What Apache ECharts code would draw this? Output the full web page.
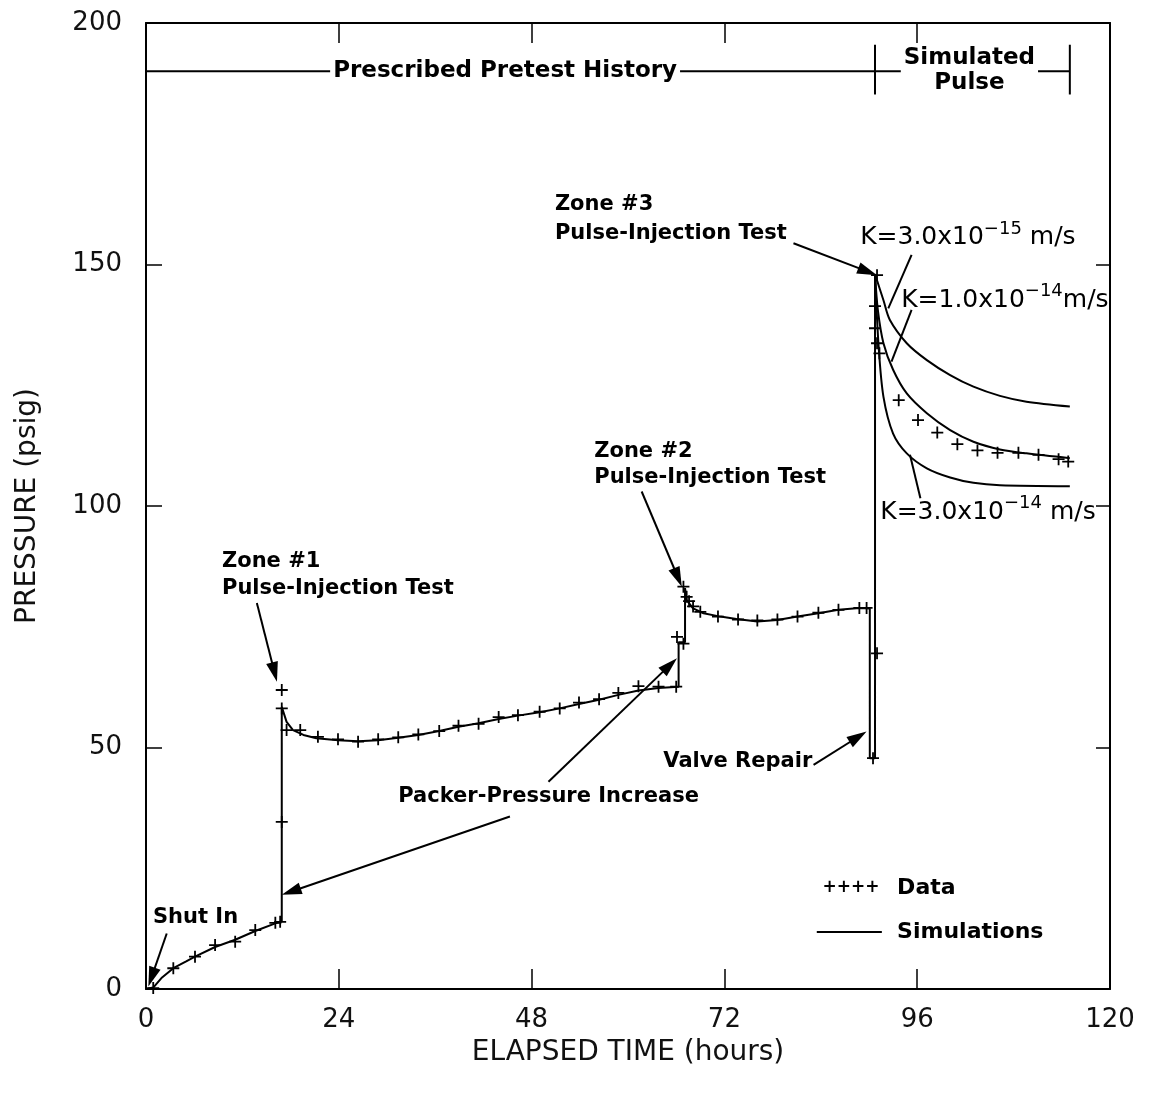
<!DOCTYPE html>
<html>
<head>
<meta charset="utf-8">
<script src="https://cdn.jsdelivr.net/npm/echarts@6/dist/echarts.min.js"></script>
<style>
html,body{margin:0;padding:0;background:#fff;}
#chart{width:1151px;height:1099px;}
</style>
</head>
<body>
<div id="chart"></div>
<script>
// ---------------- DATA ----------------
const xTicks = [0, 24, 48, 72, 96, 120];
const yTicks = [0, 50, 100, 150, 200];

// Measured data (hours, psig)
const dataTime = [0.9,3.4,6.1,8.6,11.1,13.6,16.1,16.7,16.9,16.9,16.9,17.5,19.2,21.4,23.9,26.4,28.9,31.4,33.9,36.5,38.9,41.4,43.9,46.3,49.0,51.5,53.9,56.4,58.8,61.3,63.8,66.0,66.1,66.9,66.9,67.3,67.6,68.1,69.0,71.2,73.7,76.1,78.6,81.1,83.7,86.2,88.8,89.7,90.5,91.0,91.0,90.75,90.75,91.0,91.3,93.7,96.1,98.5,101.0,103.5,106.0,108.6,111.1,113.6,114.8];
const dataPressure = [0.2,4.3,6.7,9.1,9.8,12.2,13.7,13.9,34.6,58.1,61.9,53.6,53.6,52.2,51.7,51.2,51.7,52.1,52.7,53.4,54.5,54.9,56.3,56.7,57.4,58.1,59.3,60.0,61.3,62.7,62.6,62.6,72.9,71.5,83.3,81.2,80.3,79.2,78.1,77.1,76.5,76.3,76.5,77.1,77.9,78.5,78.9,78.9,47.8,69.5,147.8,141.4,136.8,133.7,131.6,121.9,117.8,115.2,112.8,111.5,111.0,111.0,110.6,109.7,109.2];

// Simulated pretest history
const histTime = [0,0.9,2,3.4,5,6.1,8.6,11.1,13.6,16.1,16.9,16.9,17.5,18.3,19.6,21.2,23.9,26.4,28.9,31.4,33.9,36.5,38.9,41.4,43.9,46.3,49.0,51.5,53.9,56.4,58.8,61.3,63.8,66.3,66.3,67.1,67.1,67.3,68.1,69.4,71.5,73.5,76.1,78.6,81.1,83.7,86.2,88.8,90.1,90.1,90.75,90.75];
const histPressure = [0,0.3,2.4,4.3,5.7,6.7,8.7,10.2,12.0,13.6,14.0,58.4,55.3,53.6,52.6,51.9,51.5,51.3,51.5,52.0,52.6,53.4,54.3,55.0,55.9,56.6,57.3,58.1,59.0,59.9,60.9,61.8,62.3,62.6,71.8,71.8,83.0,80.5,78.8,77.8,77.1,76.6,76.1,76.4,77.1,77.8,78.5,78.9,78.8,47.8,47.8,148];

// Simulated pulse, K = 3.0e-15 m/s
const k15Time = [90.75,91.8,92.6,94.7,97.2,100.1,103.0,106.3,109.6,115.0];
const k15Pressure = [148,142.6,138.5,133.7,130.2,127.1,124.7,122.8,121.6,120.6];
// K = 1.0e-14 m/s
const k14aTime = [90.75,91.1,91.8,93.0,94.7,97.2,100.1,103.0,106.3,109.6,115.0];
const k14aPressure = [148,140.6,133.7,128.2,123.3,119.2,115.7,113.3,111.7,110.9,109.9];
// K = 3.0e-14 m/s
const k14bTime = [90.75,91.2,91.8,93.0,94.7,97.2,100.1,103.0,106.3,115.0];
const k14bPressure = [148,133.0,122.6,115.0,110.9,107.8,105.9,104.8,104.3,104.1];

// Annotation arrows / leader lines: [x1, y1, x2, y2, arrowHead]
const arrows = [
  [2.58, 11.5, 0.29, 0.5, 1],      // Shut In
  [13.8, 79.9, 16.3, 63.6, 1],     // Zone #1
  [45.3, 35.7, 16.9, 19.5, 1],     // Packer 1
  [50.1, 42.9, 66.1, 68.5, 1],     // Packer 2
  [61.7, 103.0, 66.7, 83.3, 1],    // Zone #2
  [80.6, 154.4, 91.0, 147.8, 1],   // Zone #3
  [83.1, 46.4, 89.7, 53.3, 1],     // Valve Repair
  [95.3, 152.0, 92.4, 140.9, 0],   // K=3.0e-15 leader
  [95.3, 140.6, 92.8, 129.9, 0],   // K=1.0e-14 leader
  [96.4, 101.6, 95.1, 110.6, 0],   // K=3.0e-14 leader
  [0, 190, 90.75, 190, 0],         // bracket history
  [90.75, 185.2, 90.75, 195.5, 0],
  [90.75, 190, 115.0, 190, 0],     // bracket pulse
  [115.0, 185.2, 115.0, 195.5, 0],
  [83.5, 11.8, 91.6, 11.8, 0]      // legend line sample
];

// Text annotations: [x, y, text, style]
const notes = [
  [9.46, 88.4, 'Zone #1', 'note'],
  [9.46, 83.0, 'Pulse-Injection Test', 'note'],
  [55.8, 111.2, 'Zone #2', 'note'],
  [55.8, 105.8, 'Pulse-Injection Test', 'note'],
  [50.9, 162.5, 'Zone #3', 'note'],
  [50.9, 156.5, 'Pulse-Injection Test', 'note'],
  [0.87, 14.7, 'Shut In', 'note'],
  [31.4, 39.75, 'Packer-Pressure Increase', 'note'],
  [64.4, 47.0, 'Valve Repair', 'note'],
  [88.9, 155.5, '{m|K=3.0x10}{s|−15}{m| m/s}', 'k'],
  [94.0, 142.6, '{m|K=1.0x10}{s|−14}{m|m/s}', 'k'],
  [91.4, 98.6, '{m|K=3.0x10}{s|−14}{m| m/s}', 'k'],
  [84.2, 20.9, '++++', 'plus'],
  [93.5, 20.9, 'Data', 'legend'],
  [93.5, 11.8, 'Simulations', 'legend'],
  [44.7, 190.1, 'Prescribed Pretest History', 'bracket'],
  [102.5, 190.2, 'Simulated\nPulse', 'bracket']
];

// ---------------- HELPERS ----------------
const zip = (a, b) => a.map((v, i) => [v, b[i]]);
const FONT = 'DejaVu Sans';
const base = {show: true, opacity: 1, textBorderWidth: 0, color: '#000'};
const labelStyles = {
  note: Object.assign({position: 'right', distance: 0, fontFamily: FONT, fontWeight: 700, fontSize: 21}, base),
  legend: Object.assign({position: 'right', distance: 0, fontFamily: FONT, fontWeight: 700, fontSize: 22}, base),
  plus: Object.assign({position: 'right', distance: 0, fontFamily: FONT, fontWeight: 700, fontSize: 17}, base),
  k: Object.assign({position: 'right', distance: 0,
      rich: {
        m: {fontFamily: FONT, fontSize: 25, color: '#000'},
        s: {fontFamily: FONT, fontSize: 18, color: '#000', padding: [0, 0, 18, 0]}
      }}, base),
  bracket: Object.assign({position: 'inside', fontFamily: FONT, fontWeight: 700, fontSize: 23,
      lineHeight: 25, backgroundColor: '#fff', padding: [0, 3, 0, 3], align: 'center'}, base)
};

function renderArrow(params, api) {
  const p1 = api.coord([api.value(0), api.value(1)]);
  const p2 = api.coord([api.value(2), api.value(3)]);
  const head = api.value(4);
  const dx = p2[0] - p1[0], dy = p2[1] - p1[1];
  const len = Math.hypot(dx, dy) || 1;
  const ux = dx / len, uy = dy / len;
  const L = 20, W = 6;
  const children = [];
  const end = head ? [p2[0] - ux * L * 0.7, p2[1] - uy * L * 0.7] : p2;
  children.push({type: 'line', shape: {x1: p1[0], y1: p1[1], x2: end[0], y2: end[1]},
    style: {stroke: '#000', lineWidth: 2}});
  if (head) {
    const b = [p2[0] - ux * L, p2[1] - uy * L];
    children.push({type: 'polygon', shape: {points: [p2, [b[0] - uy * W, b[1] + ux * W], [b[0] + uy * W, b[1] - ux * W]]},
      style: {fill: '#000'}});
  }
  return {type: 'group', children};
}

const PLUS = 'path://M5.1,0H6.9V5.1H12V6.9H6.9V12H5.1V6.9H0V5.1H5.1Z';
const tickFont = {fontFamily: FONT, fontSize: 26, color: '#111'};

const chart = echarts.init(document.getElementById('chart'), null, {renderer: 'canvas'});
const simLine = {type: 'line', showSymbol: false, symbol: 'none', silent: true,
  lineStyle: {color: '#000', width: 2}, z: 3, animation: false};

chart.setOption({
  animation: false,
  backgroundColor: '#fff',
  textStyle: {color: '#000'},
  grid: {left: 146, right: 41, top: 23, bottom: 110, show: false},
  xAxis: [
    {type: 'value', min: 0, max: 120, interval: 24, position: 'bottom',
     axisLine: {show: true, onZero: false, lineStyle: {color: '#000', width: 2}},
     axisTick: {show: true, inside: true, length: 20, lineStyle: {color: '#000', width: 1.5}},
     axisLabel: Object.assign({margin: 18}, tickFont),
     splitLine: {show: false},
     name: 'ELAPSED TIME (hours)', nameLocation: 'middle', nameGap: 50,
     nameTextStyle: {fontFamily: FONT, fontSize: 28, color: '#111'}},
    {type: 'value', min: 0, max: 120, interval: 24, position: 'top',
     axisLine: {show: true, onZero: false, lineStyle: {color: '#000', width: 2}},
     axisTick: {show: true, inside: true, length: 20, lineStyle: {color: '#000', width: 1.5}},
     axisLabel: {show: false}, splitLine: {show: false}}
  ],
  yAxis: [
    {type: 'value', min: 0, max: 200, interval: 50, position: 'left',
     axisLine: {show: true, onZero: false, lineStyle: {color: '#000', width: 2}},
     axisTick: {show: true, inside: true, length: 16, lineStyle: {color: '#000', width: 1.5}},
     axisLabel: Object.assign({margin: 24}, tickFont),
     splitLine: {show: false},
     name: 'PRESSURE (psig)', nameLocation: 'middle', nameGap: 104,
     nameTextStyle: {fontFamily: FONT, fontSize: 28, color: '#111'}},
    {type: 'value', min: 0, max: 200, interval: 50, position: 'right',
     axisLine: {show: true, onZero: false, lineStyle: {color: '#000', width: 2}},
     axisTick: {show: true, inside: true, length: 14, lineStyle: {color: '#000', width: 1.5}},
     axisLabel: {show: false}, splitLine: {show: false}}
  ],
  series: [
    Object.assign({name: 'Simulated history', data: zip(histTime, histPressure)}, simLine),
    Object.assign({name: 'K=3.0x10^-15 m/s', data: zip(k15Time, k15Pressure), smooth: 0.3}, simLine),
    Object.assign({name: 'K=1.0x10^-14 m/s', data: zip(k14aTime, k14aPressure), smooth: 0.3}, simLine),
    Object.assign({name: 'K=3.0x10^-14 m/s', data: zip(k14bTime, k14bPressure), smooth: 0.3}, simLine),
    {name: 'Data', type: 'scatter', symbol: PLUS, symbolSize: 12,
     itemStyle: {color: '#000', opacity: 1}, data: zip(dataTime, dataPressure), z: 4, silent: true},
    {name: 'Arrows', type: 'custom', renderItem: renderArrow, data: arrows, z: 5, silent: true,
     encode: {x: [0, 2], y: [1, 3]}, clip: false},
    {name: 'Notes', type: 'scatter', symbolSize: 0, silent: true, z: 6,
     itemStyle: {color: '#000', opacity: 1},
     data: notes.map(n => ({value: [n[0], n[1]],
       label: Object.assign({formatter: n[2]}, labelStyles[n[3]])}))}
  ]
});
</script>
</body>
</html>
